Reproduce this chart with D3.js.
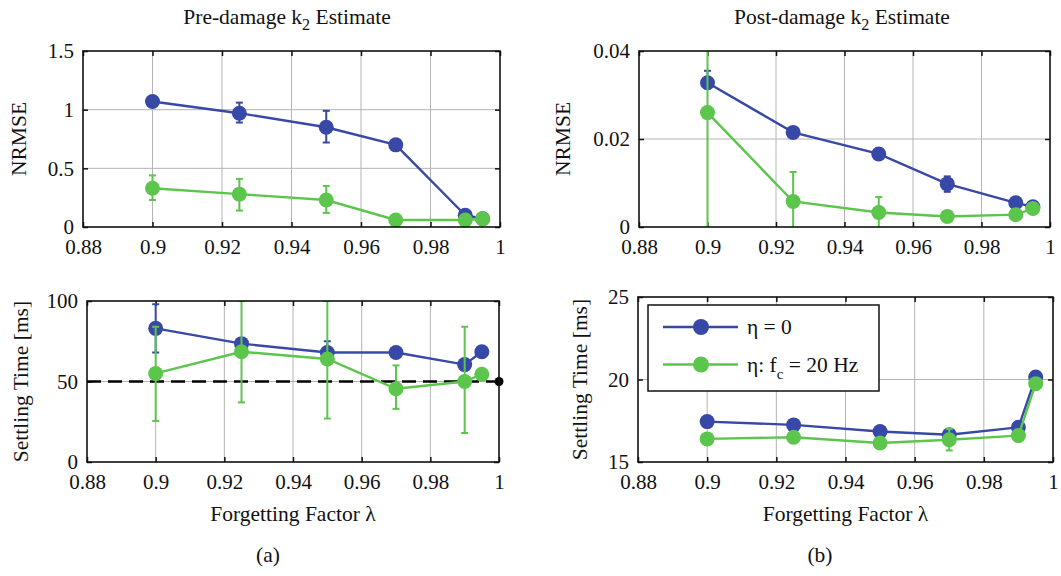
<!DOCTYPE html>
<html lang="en">
<head>
    <meta charset="UTF-8">
    <title>Forgetting factor study</title>
    <script src="https://d3js.org/d3.v7.min.js"></script>
    <style>
        body { margin: 0; background: #fff; }
        svg text { font-family: "Liberation Serif", Tinos, "Times New Roman", serif; fill: #111; }
    </style>
</head>
<body>
<svg width="1061" height="576"></svg>
<script>
    // Forgetting factor values (x for every panel)
    const lambda = [0.9, 0.925, 0.95, 0.97, 0.99, 0.995];
    const xTicks = [0.88, 0.9, 0.92, 0.94, 0.96, 0.98, 1];

    // Pre-damage NRMSE
    const preNrmseBlue   = [1.07, 0.97, 0.85, 0.70, 0.10, 0.07];
    const preNrmseBlueLo = [1.05, 0.89, 0.72, 0.68, 0.09, 0.06];
    const preNrmseBlueHi = [1.09, 1.06, 0.99, 0.72, 0.11, 0.08];
    const preNrmseGreen   = [0.33, 0.28, 0.23, 0.06, 0.06, 0.07];
    const preNrmseGreenLo = [0.23, 0.14, 0.12, 0.05, 0.05, 0.06];
    const preNrmseGreenHi = [0.44, 0.41, 0.35, 0.07, 0.07, 0.08];

    // Post-damage NRMSE
    const postNrmseBlue   = [0.0328, 0.0215, 0.0166, 0.0098, 0.0055, 0.0046];
    const postNrmseBlueLo = [0.0315, 0.0208, 0.0155, 0.0080, 0.0050, 0.0042];
    const postNrmseBlueHi = [0.0355, 0.0222, 0.0178, 0.0115, 0.0060, 0.0050];
    const postNrmseGreen   = [0.0260, 0.0058, 0.0033, 0.0024, 0.0028, 0.0042];
    const postNrmseGreenLo = [-0.01, -0.002, -0.001, 0.0020, 0.0025, 0.0040];
    const postNrmseGreenHi = [0.05, 0.0125, 0.0068, 0.0028, 0.0031, 0.0045];

    // Pre-damage settling time [ms]
    const preSettleBlue   = [83, 73.5, 68, 68, 60.5, 68.5];
    const preSettleBlueLo = [68, 70, 61, 66, 58, 67];
    const preSettleBlueHi = [98, 77, 75, 70, 63, 70];
    const preSettleGreen   = [55, 68.5, 64, 45.5, 50, 54.5];
    const preSettleGreenLo = [25.5, 37, 27, 33, 18, 53];
    const preSettleGreenHi = [84, 100, 100, 60, 84, 56];
    const settleLimit = 50;

    // Post-damage settling time [ms]
    const postSettleBlue   = [17.45, 17.25, 16.85, 16.65, 17.1, 20.15];
    const postSettleBlueLo = [17.4, 17.2, 16.8, 16.6, 17.05, 20.1];
    const postSettleBlueHi = [17.5, 17.3, 16.9, 16.7, 17.15, 20.2];
    const postSettleGreen   = [16.4, 16.5, 16.15, 16.35, 16.6, 19.75];
    const postSettleGreenLo = [16.35, 16.45, 16.1, 15.7, 16.55, 19.7];
    const postSettleGreenHi = [16.45, 16.55, 16.2, 17.0, 16.65, 19.8];

    const seriesNames = ["η = 0", "η: f_c = 20 Hz"];
    const blue = "#3848a6";
    const green = "#5cc54c";

    const svg = d3.select("svg");

    function drawPanel(p) {
        const x = d3.scaleLinear().domain([0.88, 1]).range([p.left, p.right]);
        const y = d3.scaleLinear().domain(p.yDomain).range([p.bottom, p.top]);
        const g = svg.append("g");

        // grid
        g.selectAll(".gx").data(xTicks.slice(1, -1)).join("line")
            .attr("x1", d => x(d)).attr("x2", d => x(d))
            .attr("y1", p.top).attr("y2", p.bottom)
            .attr("stroke", "#b4b4b4").attr("stroke-width", 1);
        g.selectAll(".gy").data(p.yTicks.slice(1, -1)).join("line")
            .attr("x1", p.left).attr("x2", p.right)
            .attr("y1", d => y(d)).attr("y2", d => y(d))
            .attr("stroke", "#b4b4b4").attr("stroke-width", 1);

        // axes with inward ticks on all sides
        const tk = 5;
        const fixText = a => a.attr("font-family", null).attr("font-size", null)
            .selectAll("text").style("font-size", "21px").attr("fill", "#111");
        g.append("g").attr("transform", `translate(0,${p.bottom})`)
            .call(d3.axisBottom(x).tickValues(xTicks).tickSizeInner(-tk).tickSizeOuter(0).tickPadding(12).tickFormat(d3.format("~g")))
            .call(a => a.select(".domain").remove())
            .call(fixText);
        g.append("g").attr("transform", `translate(0,${p.top})`)
            .call(d3.axisTop(x).tickValues(xTicks).tickSizeInner(-tk).tickSizeOuter(0).tickFormat(""))
            .call(a => a.select(".domain").remove());
        g.append("g").attr("transform", `translate(${p.left},0)`)
            .call(d3.axisLeft(y).tickValues(p.yTicks).tickSizeInner(-tk).tickSizeOuter(0).tickPadding(9).tickFormat(d3.format("~g")))
            .call(a => a.select(".domain").remove())
            .call(fixText);
        g.append("g").attr("transform", `translate(${p.right},0)`)
            .call(d3.axisRight(y).tickValues(p.yTicks).tickSizeInner(-tk).tickSizeOuter(0).tickFormat(""))
            .call(a => a.select(".domain").remove());
        g.selectAll(".tick line").attr("stroke", "#111").attr("stroke-width", 1.5);

        // clip
        const clipId = "clip" + p.id;
        svg.append("clipPath").attr("id", clipId).append("rect")
            .attr("x", p.left).attr("y", p.top).attr("width", p.right - p.left).attr("height", p.bottom - p.top);
        const plot = g.append("g").attr("clip-path", `url(#${clipId})`);

        if (p.limit !== undefined) {
            plot.append("line")
                .attr("x1", x(0.88)).attr("x2", x(1))
                .attr("y1", y(p.limit)).attr("y2", y(p.limit))
                .attr("stroke", "#000").attr("stroke-width", 2.5).attr("stroke-dasharray", "14,7");
        }

        p.series.forEach(s => {
            const pts = lambda.map((l, i) => ({ l, v: s.v[i], lo: s.lo[i], hi: s.hi[i] }));
            plot.append("path").datum(pts)
                .attr("d", d3.line().x(d => x(d.l)).y(d => y(d.v)))
                .attr("fill", "none").attr("stroke", s.color).attr("stroke-width", 2.4);
            const eb = plot.append("g").attr("stroke", s.color).attr("stroke-width", 2);
            eb.selectAll(".v").data(pts).join("line")
                .attr("x1", d => x(d.l)).attr("x2", d => x(d.l))
                .attr("y1", d => y(d.lo)).attr("y2", d => y(d.hi));
            eb.selectAll(".c1").data(pts).join("line")
                .attr("x1", d => x(d.l) - 3.5).attr("x2", d => x(d.l) + 3.5)
                .attr("y1", d => y(d.lo)).attr("y2", d => y(d.lo));
            eb.selectAll(".c2").data(pts).join("line")
                .attr("x1", d => x(d.l) - 3.5).attr("x2", d => x(d.l) + 3.5)
                .attr("y1", d => y(d.hi)).attr("y2", d => y(d.hi));
            plot.selectAll(null).data(pts).join("circle")
                .attr("cx", d => x(d.l)).attr("cy", d => y(d.v)).attr("r", 7.5)
                .attr("fill", s.color);
        });

        if (p.limit !== undefined) {
            g.append("circle").attr("cx", x(1)).attr("cy", y(p.limit)).attr("r", 4.5).attr("fill", "#000");
        }

        // frame
        g.append("rect")
            .attr("x", p.left).attr("y", p.top).attr("width", p.right - p.left).attr("height", p.bottom - p.top)
            .attr("fill", "none").attr("stroke", "#111").attr("stroke-width", 1.6);

        // y label
        svg.append("text")
            .attr("transform", `translate(${p.yLabelX},${(p.top + p.bottom) / 2}) rotate(-90)`)
            .attr("text-anchor", "middle").style("font-size", "21.5px")
            .text(p.yLabel);

        if (p.xLabel) {
            svg.append("text")
                .attr("x", (p.left + p.right) / 2).attr("y", p.bottom + 59)
                .attr("text-anchor", "middle").style("font-size", "21.5px")
                .text(p.xLabel);
        }
        return { x, y };
    }

    drawPanel({
        id: "tl", left: 83, right: 500, top: 51, bottom: 227,
        yDomain: [0, 1.5], yTicks: [0, 0.5, 1, 1.5], yLabel: "NRMSE", yLabelX: 26,
        series: [
            { v: preNrmseBlue, lo: preNrmseBlueLo, hi: preNrmseBlueHi, color: blue },
            { v: preNrmseGreen, lo: preNrmseGreenLo, hi: preNrmseGreenHi, color: green }
        ]
    });
    drawPanel({
        id: "tr", left: 639, right: 1050, top: 51, bottom: 227,
        yDomain: [0, 0.04], yTicks: [0, 0.02, 0.04], yLabel: "NRMSE", yLabelX: 570,
        series: [
            { v: postNrmseBlue, lo: postNrmseBlueLo, hi: postNrmseBlueHi, color: blue },
            { v: postNrmseGreen, lo: postNrmseGreenLo, hi: postNrmseGreenHi, color: green }
        ]
    });
    drawPanel({
        id: "bl", left: 87, right: 499, top: 301, bottom: 462,
        yDomain: [0, 100], yTicks: [0, 50, 100], yLabel: "Settling Time [ms]", yLabelX: 28,
        xLabel: "Forgetting Factor λ", limit: settleLimit,
        series: [
            { v: preSettleBlue, lo: preSettleBlueLo, hi: preSettleBlueHi, color: blue },
            { v: preSettleGreen, lo: preSettleGreenLo, hi: preSettleGreenHi, color: green }
        ]
    });
    drawPanel({
        id: "br", left: 638, right: 1053, top: 297, bottom: 462,
        yDomain: [15, 25], yTicks: [15, 20, 25], yLabel: "Settling Time [ms]", yLabelX: 587,
        xLabel: "Forgetting Factor λ",
        series: [
            { v: postSettleBlue, lo: postSettleBlueLo, hi: postSettleBlueHi, color: blue },
            { v: postSettleGreen, lo: postSettleGreenLo, hi: postSettleGreenHi, color: green }
        ]
    });

    // titles with subscript
    function subText(xc, yb, before, sub, after, size) {
        const t = svg.append("text").attr("x", xc).attr("y", yb)
            .attr("text-anchor", "middle").style("font-size", size + "px");
        t.append("tspan").text(before);
        t.append("tspan").attr("dy", 6).style("font-size", (size * 0.75) + "px").text(sub);
        t.append("tspan").attr("dy", -6).text(" " + after);
        return t;
    }
    subText(287, 24, "Pre-damage k", "2", "Estimate", 21.5);
    subText(842, 24, "Post-damage k", "2", "Estimate", 21.5);

    svg.append("text").attr("x", 268).attr("y", 562).attr("text-anchor", "middle").style("font-size", "21.5px").text("(a)");
    svg.append("text").attr("x", 820).attr("y", 562).attr("text-anchor", "middle").style("font-size", "21.5px").text("(b)");

    // legend
    const lg = svg.append("g");
    lg.append("rect").attr("x", 648).attr("y", 305).attr("width", 231).attr("height", 86)
        .attr("fill", "#fff").attr("stroke", "#111").attr("stroke-width", 1.5);
    [blue, green].forEach((c, i) => {
        const yy = 327 + i * 37.5;
        lg.append("line").attr("x1", 663).attr("x2", 738).attr("y1", yy).attr("y2", yy)
            .attr("stroke", c).attr("stroke-width", 2.4);
        lg.append("circle").attr("cx", 701).attr("cy", yy).attr("r", 8).attr("fill", c);
        const parts = seriesNames[i].split("_");
        const t = lg.append("text").attr("x", 747).attr("y", yy + 7).style("font-size", "21.5px");
        if (parts.length === 1) {
            t.text(parts[0]);
        } else {
            const rest = parts[1].split(" ");
            t.append("tspan").text(parts[0]);
            t.append("tspan").attr("dy", 7).style("font-size", "15px").text(rest[0]);
            t.append("tspan").attr("dy", -7).text(" " + rest.slice(1).join(" "));
        }
    });
</script>
</body>
</html>
